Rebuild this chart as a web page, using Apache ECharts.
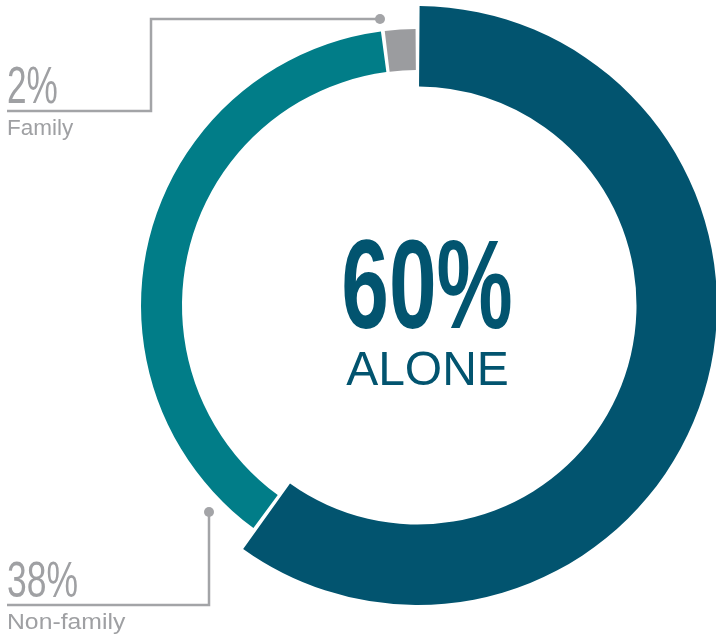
<!DOCTYPE html>
<html>
<head>
<meta charset="utf-8">
<script src="https://cdn.jsdelivr.net/npm/echarts@6/dist/echarts.min.js"></script>
<style>
html,body{margin:0;padding:0;background:#fff;}
#chart{width:716px;height:641px;}
</style>
</head>
<body>
<div id="chart"></div>
<script>
// ---- data ----
const categories = ['Alone', 'Non-family', 'Family'];
const values = [60, 38, 2];
const colors = ['#02546F', '#017D88', '#9B9C9F'];

const chart = echarts.init(document.getElementById('chart'), null, {renderer: 'canvas'});

const TEXT_DARK = '#02546F';
const GREY = '#9FA0A3';
const LINE = '#A3A4A7';

// outer (highlighted) ring holds only the first category
const outerData = categories.map((c, i) => ({
  name: c, value: values[i],
  itemStyle: {color: i === 0 ? colors[0] : 'rgba(0,0,0,0)'}
}));
// inner ring holds the other categories
const innerData = categories.map((c, i) => ({
  name: c, value: values[i],
  itemStyle: {color: i === 0 ? 'rgba(0,0,0,0)' : colors[i]}
}));

const common = {
  type: 'pie',
  center: [417.5, 305.5],
  startAngle: 90,
  clockwise: true,
  padAngle: 0.8,
  silent: true,
  animation: false,
  label: {show: false},
  labelLine: {show: false},
  emphasis: {disabled: true}
};

function bigText(x, y, txt, size, weight, color, sx, align) {
  return {
    type: 'text', x: x, y: y, scaleX: sx, silent: true,
    style: {
      text: txt, fill: color,
      font: weight + ' ' + size + 'px "Liberation Sans", Arial, sans-serif',
      textAlign: align, textVerticalAlign: 'middle'
    }
  };
}

chart.setOption({
  backgroundColor: '#fff',
  series: [
    Object.assign({}, common, {name: 'outer', radius: [219, 299.5], data: outerData}),
    Object.assign({}, common, {name: 'inner', radius: [235.5, 276.5], data: innerData})
  ],
  graphic: [
    // center label
    bigText(427, 293, values[0] + '%', 126, 'bold', TEXT_DARK, 0.68, 'center'),
    bigText(427.5, 372, categories[0].toUpperCase(), 48, 'normal', TEXT_DARK, 1, 'center'),
    // Family annotation
    {type: 'polyline', silent: true, shape: {points: [[378, 19], [151, 19], [151, 111], [7, 111]]},
     style: {stroke: LINE, lineWidth: 2.5, fill: null}},
    {type: 'circle', silent: true, shape: {cx: 380, cy: 19, r: 5}, style: {fill: LINE}},
    bigText(7, 89, values[2] + '%', 51, 'normal', GREY, 0.69, 'left'),
    bigText(7, 128.5, categories[2], 22.5, 'normal', GREY, 1, 'left'),
    // Non-family annotation
    {type: 'polyline', silent: true, shape: {points: [[209, 512], [209, 605], [7, 605]]},
     style: {stroke: LINE, lineWidth: 2.5, fill: null}},
    {type: 'circle', silent: true, shape: {cx: 209, cy: 512, r: 5}, style: {fill: LINE}},
    bigText(7, 583, values[1] + '%', 50, 'normal', GREY, 0.71, 'left'),
    bigText(7, 623, categories[1], 22.5, 'normal', GREY, 1.1, 'left')
  ]
});
</script>
</body>
</html>
